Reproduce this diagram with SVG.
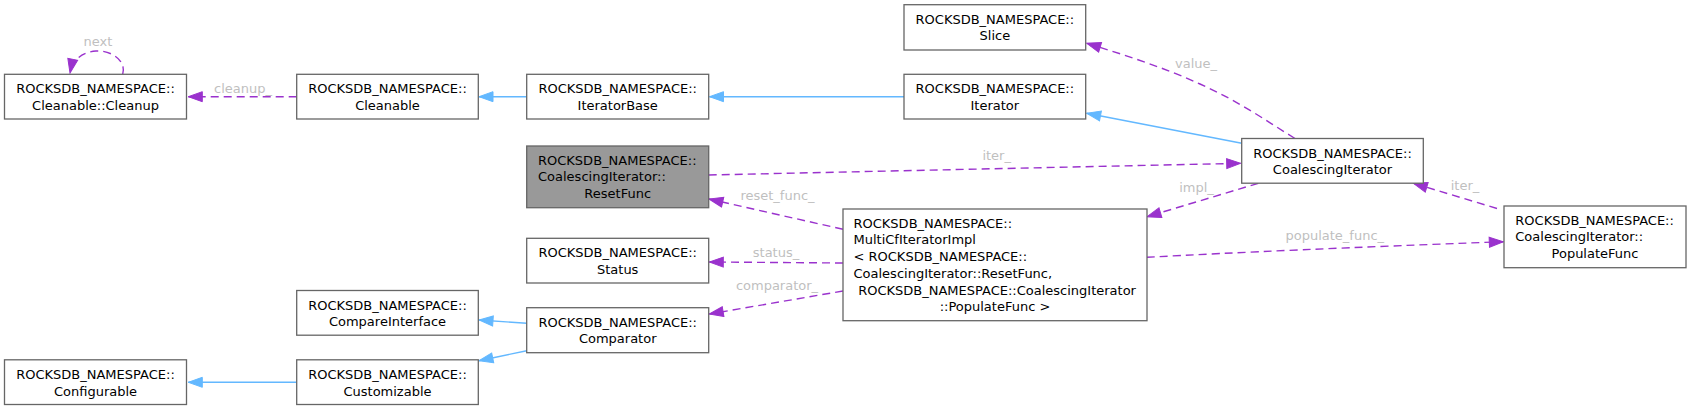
<svg xmlns="http://www.w3.org/2000/svg" width="1691" height="410" viewBox="0 0 1691 410">
<style>
text{font-family:"DejaVu Sans",sans-serif;font-size:13px;fill:#000}
.n rect{fill:#fff;stroke:#666;stroke-width:1.3}
.n.hl rect{fill:#999}
.c{text-anchor:middle}
.lbl{font-family:"DejaVu Sans",sans-serif;font-size:13px;fill:#bfbfbf;text-anchor:middle}
.inh{fill:none;stroke:#63b8ff;stroke-width:1.4;marker-end:url(#ai)}
.use{fill:none;stroke:#9a32cd;stroke-width:1.4;stroke-dasharray:8,5;marker-end:url(#au)}
</style>
<defs>
<marker id="ai" markerUnits="userSpaceOnUse" markerWidth="16" markerHeight="12" refX="15" refY="6" orient="auto"><path d="M1,1 L15,6 L1,11 z" fill="#63b8ff" stroke="#63b8ff" stroke-width="1"/></marker>
<marker id="au" markerUnits="userSpaceOnUse" markerWidth="16" markerHeight="12" refX="15" refY="6" orient="auto"><path d="M1,1 L15,6 L1,11 z" fill="#9a32cd" stroke="#9a32cd" stroke-width="1"/></marker>
</defs>
<g id="edges">
<path class="use" d="M122.7,74.3 C127,60 110,50 96,51 C84,52 73,58 70,73"/>
<text class="lbl" x="98" y="46">next</text>
<path class="use" d="M296.7,96.7 L188.3,96.7"/>
<text class="lbl" x="243" y="93.3">cleanup_</text>
<path class="inh" d="M526.7,96.7 L479,96.7"/>
<path class="inh" d="M904,96.7 L709.5,96.7"/>
<path class="inh" d="M1241.7,143.3 L1086.7,113.3"/>
<path class="use" d="M1295,138.5 C1265,120 1240,102 1200,84 C1165,68 1125,55 1086.7,43.3"/>
<text class="lbl" x="1196" y="68.3">value_</text>
<path class="use" d="M708.7,175 L1240.7,163.3"/>
<text class="lbl" x="996.7" y="160">iter_</text>
<path class="use" d="M1258.3,183.3 L1147,216.7"/>
<text class="lbl" x="1196.5" y="191.7">impl_</text>
<path class="use" d="M1497,208.5 L1413.3,183.3"/>
<text class="lbl" x="1465" y="190">iter_</text>
<path class="use" d="M1147,257.3 Q1280,250 1503.3,241.7"/>
<text class="lbl" x="1334.8" y="240">populate_func_</text>
<path class="use" d="M843,229.3 L709,199"/>
<text class="lbl" x="777.5" y="200">reset_func_</text>
<path class="use" d="M843,263 L709.3,262"/>
<text class="lbl" x="776" y="257">status_</text>
<path class="use" d="M843,291 L709.3,314"/>
<text class="lbl" x="777" y="290">comparator_</text>
<path class="inh" d="M526.7,323.3 L479,320"/>
<path class="inh" d="M526.7,350.7 L479,360.7"/>
<path class="inh" d="M296.7,382.3 L188.3,382.3"/>
</g>
<g id="node-cleanup" class="n"><rect x="4.5" y="74.3" width="182" height="44.7"/><text class="c" x="95.5" y="93.3">ROCKSDB_NAMESPACE::</text><text class="c" x="95.5" y="110">Cleanable::Cleanup</text></g>
<g id="node-cleanable" class="n"><rect x="296.7" y="74.3" width="181.6" height="44.7"/><text class="c" x="387.5" y="93.3">ROCKSDB_NAMESPACE::</text><text class="c" x="387.5" y="110">Cleanable</text></g>
<g id="node-iteratorbase" class="n"><rect x="526.7" y="74.3" width="182" height="44.7"/><text class="c" x="617.7" y="93.3">ROCKSDB_NAMESPACE::</text><text class="c" x="617.7" y="110">IteratorBase</text></g>
<g id="node-iterator" class="n"><rect x="904" y="74.3" width="181.7" height="44.7"/><text class="c" x="994.85" y="93.3">ROCKSDB_NAMESPACE::</text><text class="c" x="994.85" y="110">Iterator</text></g>
<g id="node-slice" class="n"><rect x="904" y="4.7" width="181.7" height="45.3"/><text class="c" x="994.85" y="23.7">ROCKSDB_NAMESPACE::</text><text class="c" x="994.85" y="40.4">Slice</text></g>
<g id="node-resetfunc" class="n hl"><rect x="526.7" y="146" width="182" height="61.7"/><text x="538" y="164.7">ROCKSDB_NAMESPACE::</text><text x="538" y="181.4">CoalescingIterator::</text><text class="c" x="617.7" y="198.1">ResetFunc</text></g>
<g id="node-coalescingiterator" class="n"><rect x="1241.7" y="138.5" width="181.6" height="44.7"/><text class="c" x="1332.5" y="157.5">ROCKSDB_NAMESPACE::</text><text class="c" x="1332.5" y="174.2">CoalescingIterator</text></g>
<g id="node-populatefunc" class="n"><rect x="1504" y="206" width="182" height="61.7"/><text x="1515.3" y="224.7">ROCKSDB_NAMESPACE::</text><text x="1515.3" y="241.4">CoalescingIterator::</text><text class="c" x="1595" y="258.1">PopulateFunc</text></g>
<g id="node-multicfiteratorimpl" class="n"><rect x="843" y="209" width="304" height="111.7"/><text x="853.5" y="227.7">ROCKSDB_NAMESPACE::</text><text x="853.5" y="244.4">MultiCfIteratorImpl</text><text x="853.5" y="261.1">&lt; ROCKSDB_NAMESPACE::</text><text x="853.5" y="277.8">CoalescingIterator::ResetFunc,</text><text class="c" x="995" y="294.5" xml:space="preserve"> ROCKSDB_NAMESPACE::CoalescingIterator</text><text class="c" x="995" y="311.2">::PopulateFunc &gt;</text></g>
<g id="node-status" class="n"><rect x="526.7" y="238.3" width="182" height="44.7"/><text class="c" x="617.7" y="257.3">ROCKSDB_NAMESPACE::</text><text class="c" x="617.7" y="274">Status</text></g>
<g id="node-compareinterface" class="n"><rect x="296.7" y="290.5" width="181.6" height="44.7"/><text class="c" x="387.5" y="309.5">ROCKSDB_NAMESPACE::</text><text class="c" x="387.5" y="326.2">CompareInterface</text></g>
<g id="node-comparator" class="n"><rect x="526.7" y="307.7" width="182" height="45"/><text class="c" x="617.7" y="326.7">ROCKSDB_NAMESPACE::</text><text class="c" x="617.7" y="343.4">Comparator</text></g>
<g id="node-configurable" class="n"><rect x="4.5" y="359.8" width="182" height="44.7"/><text class="c" x="95.5" y="378.8">ROCKSDB_NAMESPACE::</text><text class="c" x="95.5" y="395.5">Configurable</text></g>
<g id="node-customizable" class="n"><rect x="296.7" y="359.8" width="181.6" height="44.7"/><text class="c" x="387.5" y="378.8">ROCKSDB_NAMESPACE::</text><text class="c" x="387.5" y="395.5">Customizable</text></g>
</svg>
